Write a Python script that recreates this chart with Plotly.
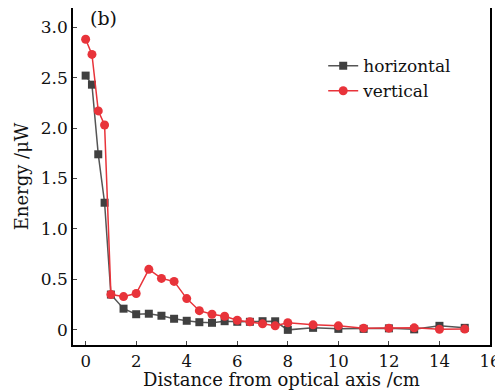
import plotly.graph_objects as go

x_vals = [0, 0.25, 0.5, 0.75, 1.0, 1.5, 2, 2.5, 3, 3.5, 4, 4.5, 5, 5.5, 6, 6.5, 7, 7.5, 8, 9, 10, 11, 12, 13, 14, 15]
horizontal = [2.52, 2.43, 1.74, 1.26, 0.35, 0.21, 0.155, 0.16, 0.14, 0.11, 0.09, 0.076, 0.07, 0.086, 0.08, 0.08, 0.086, 0.085, 0.0, 0.02, 0.01, 0.01, 0.015, 0.005, 0.04, 0.02]
vertical = [2.88, 2.73, 2.17, 2.03, 0.35, 0.33, 0.36, 0.60, 0.51, 0.48, 0.31, 0.19, 0.155, 0.135, 0.095, 0.08, 0.06, 0.04, 0.07, 0.05, 0.04, 0.017, 0.017, 0.02, 0.005, 0.008]
x_ticks = [0, 2, 4, 6, 8, 10, 12, 14, 16]
y_ticks = [0, 0.5, 1.0, 1.5, 2.0, 2.5, 3.0]
y_tick_labels = ["0", "0.5", "1.0", "1.5", "2.0", "2.5", "3.0"]

font_family = "DejaVu Serif, Liberation Serif, serif"

fig = go.Figure()
fig.add_trace(go.Scatter(
    x=x_vals, y=horizontal, mode="lines+markers", name="horizontal",
    line=dict(color="#555555", width=1.5),
    marker=dict(symbol="square", size=8, color="#404040"),
))
fig.add_trace(go.Scatter(
    x=x_vals, y=vertical, mode="lines+markers", name="vertical",
    line=dict(color="#e8333a", width=1.5),
    marker=dict(symbol="circle", size=9, color="#e8333a"),
))

# the page body adds an 8 px offset, so the figure is sized to fit the window
fig.update_layout(
    width=495, height=382,
    margin=dict(l=65, r=13, t=0, b=45),
    paper_bgcolor="white", plot_bgcolor="white",
    font=dict(family=font_family, size=17, color="#111111"),
    showlegend=True,
    legend=dict(x=0.6, y=0.881, xanchor="left", yanchor="top",
                font=dict(size=17), bgcolor="rgba(0,0,0,0)", tracegroupgap=0,
                itemwidth=30),
    annotations=[dict(text="(b)", x=0.036, y=1.0, xref="paper", yref="paper",
                      xanchor="left", yanchor="top", showarrow=False, yshift=3,
                      font=dict(size=19))],
)
fig.update_xaxes(
    range=[-0.5, 16], tickvals=x_ticks, ticks="inside", ticklen=4,
    showline=True, linecolor="black", linewidth=1.5, mirror=True,
    showgrid=False, zeroline=False, automargin=False,
    tickfont=dict(size=16.5),
    title=dict(text="Distance from optical axis /cm", standoff=6, font=dict(size=18)),
)
fig.update_yaxes(
    range=[-0.15, 3.19], tickvals=y_ticks, ticktext=y_tick_labels,
    ticks="inside", ticklen=4,
    showline=True, linecolor="black", linewidth=1.5, mirror=True,
    showgrid=False, zeroline=False, automargin=False,
    tickfont=dict(size=17),
    title=dict(text="Energy /μW", standoff=8, font=dict(size=18)),
)

fig.write_html("out.html")
